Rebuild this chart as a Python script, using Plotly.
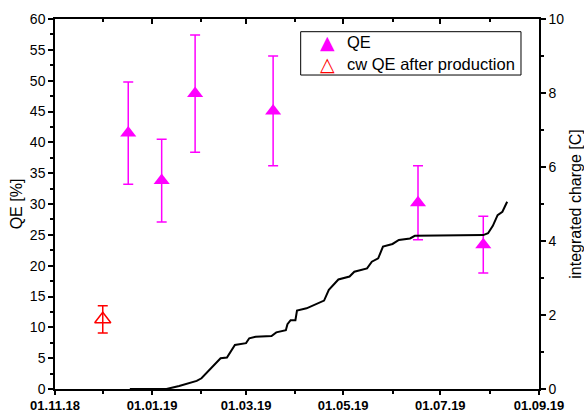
import plotly.graph_objects as go

# QE measurements
qe_dates = ["2018-12-17", "2019-01-07", "2019-01-28", "2019-03-18", "2019-06-17", "2019-07-28"]
qe_values = [41.5, 33.8, 47.9, 45.1, 30.2, 23.4]
qe_errors = [8.3, 6.7, 9.5, 8.9, 6.0, 4.6]

# cw QE after production
cw_dates = ["2018-12-01"]
cw_values = [11.3]
cw_errors = [2.2]

# integrated charge curve
charge_dates = ["2018-12-18", "2019-01-10", "2019-01-18", "2019-01-24", "2019-01-29", "2019-02-01",
                "2019-02-06", "2019-02-10", "2019-02-13", "2019-02-17", "2019-02-22", "2019-03-01",
                "2019-03-03", "2019-03-07", "2019-03-17", "2019-03-20", "2019-03-26", "2019-03-27",
                "2019-03-29", "2019-04-01", "2019-04-02", "2019-04-08", "2019-04-16", "2019-04-19",
                "2019-04-22", "2019-04-28", "2019-05-05", "2019-05-08", "2019-05-16", "2019-05-19",
                "2019-05-23", "2019-05-26", "2019-06-01", "2019-06-05", "2019-06-12", "2019-06-15",
                "2019-07-28", "2019-07-31", "2019-08-03", "2019-08-06", "2019-08-09", "2019-08-12"]
charge_values = [0.0, 0.0, 0.08, 0.15, 0.22, 0.29,
                 0.51, 0.69, 0.83, 0.85, 1.19, 1.24,
                 1.37, 1.41, 1.43, 1.53, 1.59, 1.75,
                 1.86, 1.86, 2.12, 2.18, 2.33, 2.39,
                 2.68, 2.96, 3.04, 3.17, 3.26, 3.44,
                 3.53, 3.85, 3.92, 4.03, 4.07, 4.14,
                 4.16, 4.21, 4.41, 4.70, 4.79, 5.06]

x_tickvals = ["2018-11-01", "2019-01-01", "2019-03-01", "2019-05-01", "2019-07-01", "2019-09-01"]
x_ticktext = ["01.11.18", "01.01.19", "01.03.19", "01.05.19", "01.07.19", "01.09.19"]
x_minorvals = ["2018-12-01", "2019-02-01", "2019-04-01", "2019-06-01", "2019-08-01"]

legend_labels = ["QE", "cw QE after production"]
legend_symbols = ["\u25B2", "\u25B3"]
legend_colors = ["#ff00ff", "red"]

FONT = "Liberation Sans, Arial, sans-serif"
MAG = "#ff00ff"

fig = go.Figure()

fig.add_trace(go.Scatter(
    x=charge_dates, y=charge_values, mode="lines", yaxis="y2",
    line=dict(color="black", width=2), showlegend=False, name="charge"))

fig.add_trace(go.Scatter(
    x=qe_dates, y=qe_values, mode="markers", name=legend_labels[0], showlegend=False,
    marker=dict(symbol="triangle-up", size=14, color=MAG),
    error_y=dict(type="data", array=qe_errors, color=MAG, thickness=1.5, width=5)))

fig.add_trace(go.Scatter(
    x=cw_dates, y=cw_values, mode="markers", name=legend_labels[1], showlegend=False,
    marker=dict(symbol="triangle-up-open", size=14, color="red", line=dict(width=1.5, color="red")),
    error_y=dict(type="data", array=cw_errors, color="red", thickness=1.5, width=5)))

xrange = ["2018-11-01", "2019-09-01"]

fig.update_layout(
    width=584, height=414,
    margin=dict(l=55, r=45, t=19, b=25),
    paper_bgcolor="white", plot_bgcolor="white",
    font=dict(family=FONT, size=14, color="black"),
    showlegend=False,
    xaxis=dict(
        type="date", range=xrange, showgrid=False, zeroline=False,
        showline=True, linecolor="black", linewidth=1.5,
        ticks="outside", ticklen=4, tickwidth=1.5, tickcolor="black",
        tickmode="array", tickvals=x_tickvals, ticktext=x_ticktext,
        tickfont=dict(family=FONT, size=13, weight="bold"),
        minor=dict(tickmode="array", tickvals=x_minorvals, ticks="outside", ticklen=3,
                   tickwidth=1.5, tickcolor="black", showgrid=False),
        automargin=False),
    xaxis2=dict(
        type="date", range=xrange, overlaying="x", side="top", anchor="y",
        showgrid=False, zeroline=False, showline=True, linecolor="black", linewidth=1.5,
        ticks="inside", ticklen=5, tickwidth=1.5, tickcolor="black",
        tickmode="array", tickvals=x_tickvals, showticklabels=False,
        minor=dict(tickmode="array", tickvals=x_minorvals, ticks="inside", ticklen=3,
                   tickwidth=1.5, tickcolor="black", showgrid=False),
        automargin=False),
    yaxis=dict(
        range=[0, 60], dtick=5, tick0=0, showgrid=False, zeroline=False,
        showline=True, linecolor="black", linewidth=1.5,
        ticks="outside", ticklen=5, tickwidth=1.5, tickcolor="black",
        minor=dict(dtick=2.5, ticks="outside", ticklen=3, tickwidth=1.5, tickcolor="black", showgrid=False),
        title=dict(text="QE [%]", font=dict(size=16), standoff=3),
        automargin=False),
    yaxis2=dict(
        range=[0, 10], dtick=2, tick0=0, overlaying="y", side="right", anchor="x",
        showgrid=False, zeroline=False, showline=True, linecolor="black", linewidth=1.5,
        ticks="outside", ticklen=5, tickwidth=1.5, tickcolor="black",
        minor=dict(dtick=1, ticks="outside", ticklen=3, tickwidth=1.5, tickcolor="black", showgrid=False),
        title=dict(text="integrated charge [C]", font=dict(size=16), standoff=8),
        automargin=False),
)

# manual legend box
fig.add_shape(type="rect", xref="paper", yref="paper",
              x0=0.5076, x1=0.9628, y0=0.8486, y1=0.9657,
              line=dict(color="black", width=1), fillcolor="white", layer="above")
row_y = [0.9378, 0.8797]
for sym, col, lab, yy in zip(legend_symbols, legend_colors, legend_labels, row_y):
    fig.add_annotation(xref="paper", yref="paper", x=0.562, y=yy, text=sym, showarrow=False,
                       xanchor="center", yanchor="middle",
                       font=dict(family="DejaVu Sans", size=19, color=col))
    fig.add_annotation(xref="paper", yref="paper", x=0.599, y=yy, text=lab, showarrow=False,
                       xanchor="left", yanchor="middle",
                       font=dict(family=FONT, size=16.5, color="black"))

# invisible trace to activate top axis
fig.add_trace(go.Scatter(x=[xrange[0]], y=[None], xaxis="x2", yaxis="y",
                         showlegend=False, hoverinfo="skip"))

fig.write_html("out.html")
